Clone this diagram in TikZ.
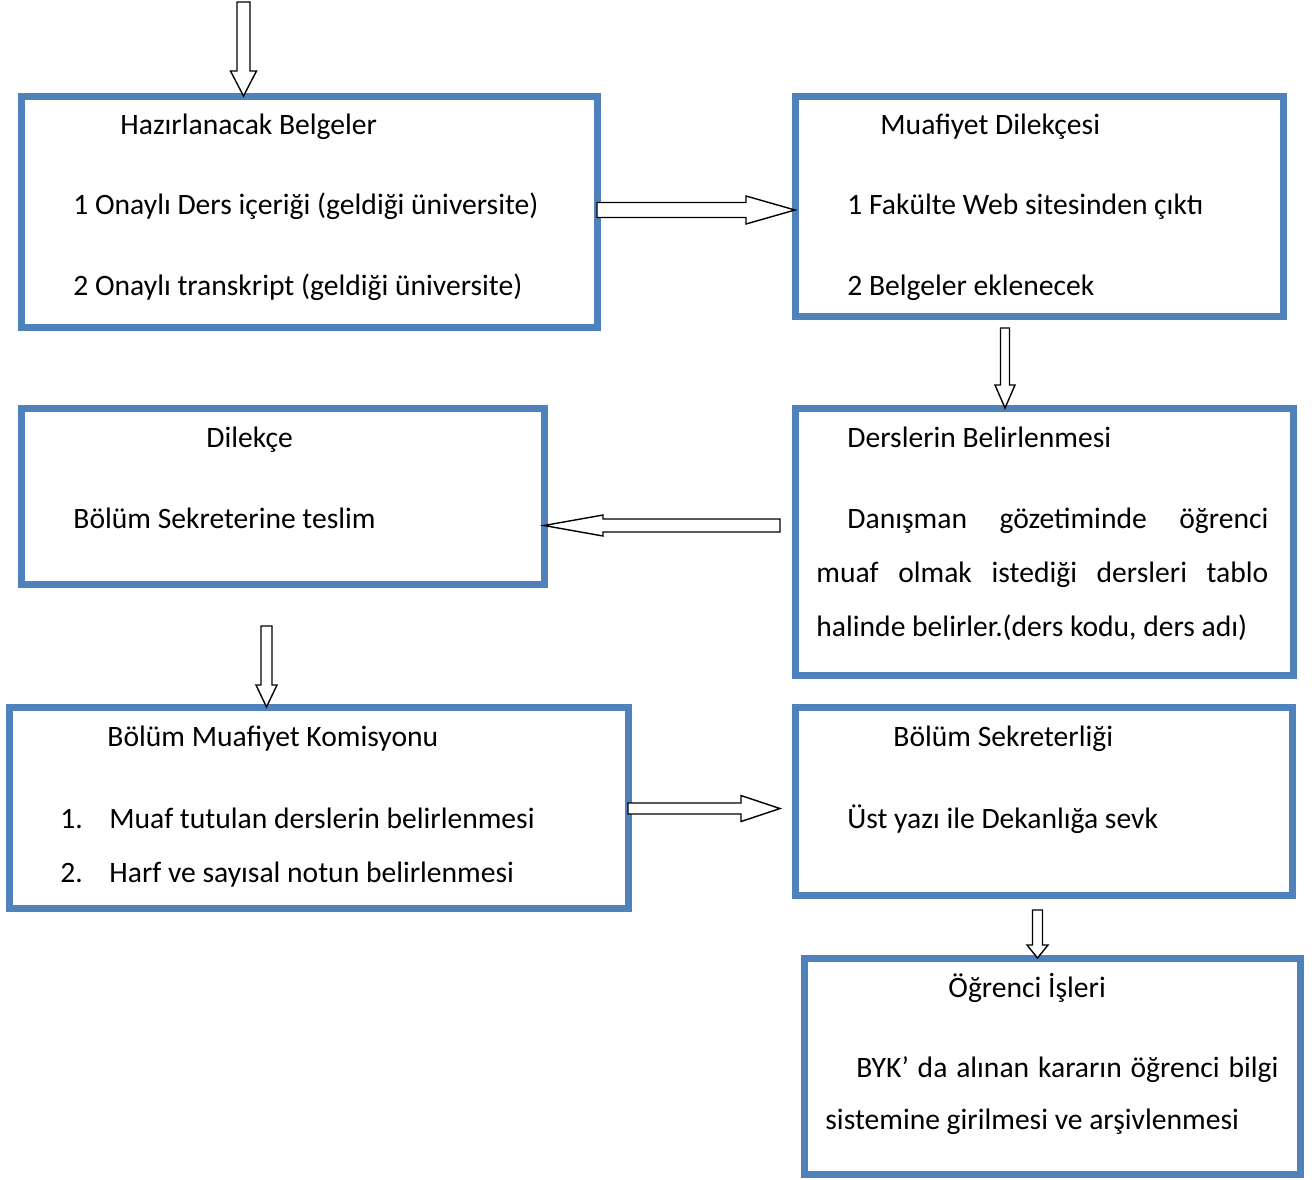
\documentclass[tikz,border=0pt]{standalone}
\usepackage{fontspec}
\setmainfont{Carlito}
\usetikzlibrary{calc,fit}
\definecolor{boxblue}{HTML}{4F81BD}
\tikzset{
  box/.style={draw=boxblue, line width=3.5pt, inner sep=0pt, outer sep=0pt, rectangle},
  txt/.style={anchor=base west, inner sep=0pt, font=\fontsize{14.8pt}{17pt}\selectfont},
  blockarr/.style={draw=black, fill=white, line width=0.7pt, line join=miter}
}
% down arrow: #1 start, #2 tip, #3 shaft half width, #4 head half width, #5 head length
\newcommand\dnarr[5]{\draw[blockarr] ($(#1)+(-#3,0)$) -- ($(#2)+(-#3,-#5)$) -- ($(#2)+(-#4,-#5)$) -- (#2) -- ($(#2)+(#4,-#5)$) -- ($(#2)+(#3,-#5)$) -- ($(#1)+(#3,0)$) -- cycle;}
% right arrow
\newcommand\rtarr[5]{\draw[blockarr] ($(#1)+(0,-#3)$) -- ($(#2)+(-#5,-#3)$) -- ($(#2)+(-#5,-#4)$) -- (#2) -- ($(#2)+(-#5,#4)$) -- ($(#2)+(-#5,#3)$) -- ($(#1)+(0,#3)$) -- cycle;}
% left arrow
\newcommand\ltarr[5]{\draw[blockarr] ($(#1)+(0,-#3)$) -- ($(#2)+(#5,-#3)$) -- ($(#2)+(#5,-#4)$) -- (#2) -- ($(#2)+(#5,#4)$) -- ($(#2)+(#5,#3)$) -- ($(#1)+(0,#3)$) -- cycle;}
\begin{document}
\begin{tikzpicture}[x=0.5pt, y=-0.5pt]
\useasboundingbox (0,0) rectangle (1316,1179);

% boxes
\node[box, fit={(21,96)(597,327)}] (b1) {};
\node[box, fit={(795,96)(1283,316)}] (b2) {};
\node[box, fit={(21,408)(544,584)}] (b3) {};
\node[box, fit={(795,408)(1293,675)}] (b4) {};
\node[box, fit={(9,707)(628,908)}] (b5) {};
\node[box, fit={(795,707)(1292,895)}] (b6) {};
\node[box, fit={(804,958)(1300,1174)}] (b7) {};

% texts box 1
\node[txt] (t11) at (120,134.5) {Hazırlanacak Belgeler};
\node[txt] (t12) at (73,214.5) {1 Onaylı Ders içeriği (geldiği üniversite)};
\node[txt] (t13) at (73,295.5) {2 Onaylı transkript (geldiği üniversite)};
% box 2
\node[txt] (t21) at (880,134.5) {Muafiyet Dilekçesi};
\node[txt] (t22) at (847,214.5) {1 Fakülte Web sitesinden çıktı};
\node[txt] (t23) at (847,295.5) {2 Belgeler eklenecek};
% box 3
\node[txt] (t31) at (206,447.5) {Dilekçe};
\node[txt] (t32) at (73,528.5) {Bölüm Sekreterine teslim};
% box 4
\node[txt] (t41) at (847,447.5) {Derslerin Belirlenmesi};
\node[txt] (t42) at (847,528.5) {\makebox[210.5pt][s]{Danışman gözetiminde öğrenci}};
\node[txt] (t43) at (816,582.5) {\makebox[226pt][s]{muaf olmak istediği dersleri tablo}};
\node[txt] (t44) at (816,636.5) {halinde belirler.(ders kodu, ders adı)};
% box 5
\node[txt] (t51) at (107,746.5) {Bölüm Muafiyet Komisyonu};
\node[txt] (t52n) at (60,828.5) {1.};
\node[txt] (t52) at (109,828.5) {Muaf tutulan derslerin belirlenmesi};
\node[txt] (t53n) at (60,882.5) {2.};
\node[txt] (t53) at (109,882.5) {Harf ve sayısal notun belirlenmesi};
% box 6
\node[txt] (t61) at (893,746.5) {Bölüm Sekreterliği};
\node[txt] (t62) at (847,828.5) {Üst yazı ile Dekanlığa sevk};
% box 7
\node[txt] (t71) at (948,997.5) {Öğrenci İşleri};
\node[txt] (t72) at (856,1077.5) {\makebox[211pt][s]{BYK’ da alınan kararın öğrenci bilgi}};
\node[txt] (t73) at (825,1129.5) {sistemine girilmesi ve arşivlenmesi};

% arrows
\coordinate (a0s) at (243.5,2);
\coordinate (a0t) at (a0s |- b1.north);
\dnarr{a0s}{a0t}{6.5}{13}{25}

\coordinate (a1s) at (b1.east |- 0,210);
\coordinate (a1t) at (b2.west |- 0,210);
\rtarr{a1s}{a1t}{7.5}{14}{49}

\coordinate (a2s) at (1005,328);
\coordinate (a2t) at (a2s |- b4.north);
\dnarr{a2s}{a2t}{4.5}{10}{23}

\coordinate (a3s) at (780,525.5);
\coordinate (a3t) at (b3.east |- a3s);
\ltarr{a3s}{a3t}{6.5}{10.5}{59}

\coordinate (a4s) at (266.5,626);
\coordinate (a4t) at (a4s |- b5.north);
\dnarr{a4s}{a4t}{5.5}{10.5}{22}

\coordinate (a5s) at (b5.east |- 0,808.5);
\coordinate (a5t) at (780,808.5);
\rtarr{a5s}{a5t}{5.5}{13}{39}

\coordinate (a6s) at (1037.5,910);
\coordinate (a6t) at (a6s |- b7.north);
\dnarr{a6s}{a6t}{5}{10.5}{13}
\end{tikzpicture}
\end{document}
